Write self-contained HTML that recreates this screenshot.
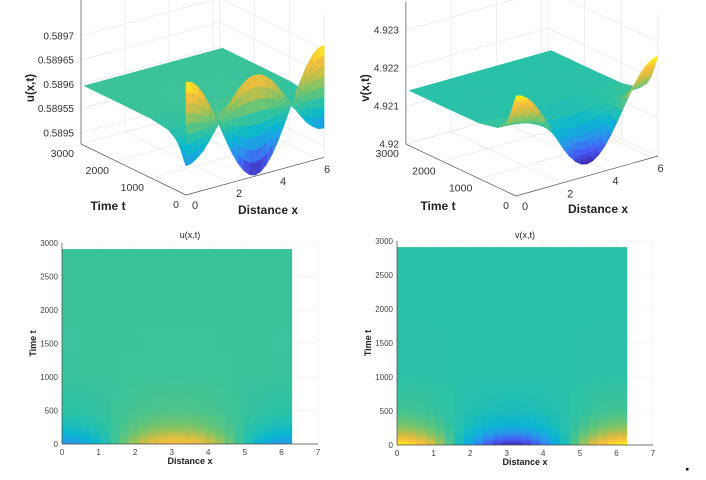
<!DOCTYPE html>
<html><head><meta charset="utf-8"><style>
html,body{margin:0;padding:0;background:#fff;}
svg{display:block;font-family:"Liberation Sans",sans-serif;}
</style></head>
<body>
<svg id="fig" width="706" height="480" viewBox="0 0 706 480" xmlns="http://www.w3.org/2000/svg">
<defs id="defs"></defs>
<rect x="686" y="468" width="2.5" height="2.5" fill="#000"/>
</svg>
<script>
// ---- data ----
const xs = [0,0.262,0.524,0.785,1.047,1.309,1.571,1.833,2.094,2.356,2.618,2.880,3.142,3.403,3.665,3.927,4.189,4.451,4.712,4.974,5.236,5.498,5.760,6.021,6.283];
const ts = [0,5,30,60,100,150,200,300,500,1000,2000,2910];
const uInitial = [0.589710,0.589706,0.589695,0.589676,0.589652,0.589624,0.589595,0.589565,0.589537,0.589513,0.589495,0.589483,0.589479,0.589483,0.589495,0.589513,0.589537,0.589565,0.589595,0.589624,0.589652,0.589676,0.589695,0.589706,0.589708];
const uEarly = [0.589537,0.589539,0.589547,0.589558,0.589574,0.589592,0.589611,0.589630,0.589648,0.589664,0.589675,0.589683,0.589685,0.589683,0.589675,0.589664,0.589648,0.589630,0.589611,0.589592,0.589574,0.589558,0.589547,0.589539,0.589537];
const uSteady = 0.5896;
const uDecay = [1,1,0.92,0.85,0.72,0.58,0.45,0.28,0.1,0.01,0,0];
const vInitial = [4.922632,4.922592,4.922476,4.922292,4.922053,4.921774,4.921474,4.921174,4.920895,4.920655,4.920471,4.920355,4.920316,4.920355,4.920471,4.920655,4.920895,4.921174,4.921474,4.921774,4.922053,4.922292,4.922476,4.922592,4.922632];
const vSteady = 4.92145;
const vDecay = [1,0.97,0.9,0.82,0.7,0.56,0.44,0.27,0.1,0.01,0,0];
const uZTicks = [0.5895,0.58955,0.5896,0.58965,0.5897];
const uZLabels = ['0.5895','0.58955','0.5896','0.58965','0.5897'];
const vZTicks = [4.92,4.921,4.922,4.923];
const vZLabels = ['4.92','4.921','4.922','4.923'];
const xTicks3 = [0,2,4,6];
const tTicks3 = [0,1000,2000,3000];
const xTicksH = [0,1,2,3,4,5,6,7];
const tTicksH = [0,500,1000,1500,2000,2500,3000];

// ---- helpers ----
const NS='http://www.w3.org/2000/svg';
const svg=document.getElementById('fig');
const defs=document.getElementById('defs');
function mk(tag,attrs,parent){const e=document.createElementNS(NS,tag);for(const k in attrs)e.setAttribute(k,attrs[k]);(parent||svg).appendChild(e);return e;}
const stops=[[0,[62,38,168]],[0.125,[70,92,245]],[0.25,[40,150,235]],[0.375,[8,182,210]],[0.5,[45,194,165]],[0.625,[115,197,110]],[0.75,[200,190,70]],[0.875,[253,190,60]],[1,[249,250,20]]];
function cmap(f){f=Math.max(0,Math.min(1,f));for(let i=1;i<stops.length;i++){if(f<=stops[i][0]){const a=stops[i-1],b=stops[i];const r=(f-a[0])/(b[0]-a[0]);const c=a[1].map((v,k)=>Math.round(v+(b[1][k]-v)*r));return 'rgb('+c.join(',')+')';}}return 'rgb(249,250,20)';}
function buildU(){return ts.map((t,j)=>j===0?uInitial.slice():uEarly.map(b=>uSteady+(b-uSteady)*uDecay[j]));}
function buildV(){return ts.map((t,j)=>vInitial.map(a=>vSteady+(a-vSteady)*vDecay[j]));}

function draw3D(cfg){
  const Z=cfg.Z, P=cfg.P, zf=cfg.zFloor, zt=cfg.zTop, xm=6.2832, tm=3000;
  const g=mk('g',{});
  
  
  const gl=(a,b,col,w,name)=>{const l=mk('line',{x1:a[0],y1:a[1],x2:b[0],y2:b[1],stroke:col,'stroke-width':w},g);
    
    };
  const gc='#e3e3e3';
  xTicks3.forEach(x=>{gl(P(x,tm,zf),P(x,tm,zt),gc,0.6,'grid-line');gl(P(x,0,zf),P(x,tm,zf),gc,0.6,'grid-line');});
  tTicks3.forEach(t=>{gl(P(xm,t,zf),P(xm,t,zt),gc,0.6,'grid-line');gl(P(0,t,zf),P(xm,t,zf),gc,0.6,'grid-line');});
  cfg.zTicks.forEach(z=>{gl(P(0,tm,z),P(xm,tm,z),gc,0.6,'grid-line');gl(P(xm,0,z),P(xm,tm,z),gc,0.6,'grid-line');});
  gl(P(0,0,zf),P(0,tm,zf),'#555',0.7,'t-axis-line');
  gl(P(0,0,zf),P(xm,0,zf),'#555',0.7,'x-axis-line');
  gl(P(0,tm,zf),P(0,tm,zt),'#555',0.7,'z-axis-line');
  let mn=Infinity,mx=-Infinity;Z.forEach(r=>r.forEach(v=>{mn=Math.min(mn,v);mx=Math.max(mx,v);}));
  const rows=[];
  const rowT=[];
  for(let j=0;j<ts.length;j++){
    if(j===1){for(let s=1;s<8;s++){const f=s/8;rows.push(Z[0].map((v,i)=>v+(Z[1][i]-v)*f));rowT.push(ts[0]+(ts[1]-ts[0])*f);}}
    rows.push(Z[j]);rowT.push(ts[j]);
  }
  const quads=[];
  for(let j=0;j<rows.length-1;j++)for(let i=0;i<xs.length-1;i++){
    const c=[[i,j],[i+1,j],[i+1,j+1],[i,j+1]];
    const pts=c.map(([a,b])=>P(xs[a],rowT[b],rows[b][a]));
    const zm=c.reduce((s,[a,b])=>s+rows[b][a],0)/4;
    const fl=P((xs[i]+xs[i+1])/2,(rowT[j]+rowT[j+1])/2,zf);
    quads.push({pts,zm,d:fl[1]});
  }
  quads.sort((a,b)=>a.d-b.d);
  quads.forEach(q=>{const col=cmap((q.zm-mn)/(mx-mn));
    const p=mk('polygon',{points:q.pts.map(p=>p[0].toFixed(2)+','+p[1].toFixed(2)).join(' '),fill:col,stroke:col,'stroke-width':0.5},g);
    
    });
  const tx=(x,y,s,anchor,name,extra)=>{const e=mk('text',Object.assign({x:x,y:y,'font-size':10,fill:'#333','text-anchor':anchor},extra||{}),g);e.textContent=s;
    
    };
  cfg.zTicks.forEach((z,k)=>{const p=P(0,tm,z);tx(p[0]-7,p[1]+3.5,cfg.zLabels[k],'end','z-tick-label');});
  xTicks3.forEach(x=>{const p=P(x,0,zf);tx(p[0]+9,p[1]+14,String(x),'middle','x-tick-label',{'font-size':11});});
  tTicks3.forEach(t=>{const p=P(0,t,zf);tx(p[0]-7,p[1]+13,String(t),'end','t-tick-label',{'font-size':10.5});});
  tx(cfg.zl[0],cfg.zl[1],cfg.zName,'middle','z-axis-title',{'font-weight':'bold','font-size':11.5,transform:'rotate(-90 '+cfg.zl[0]+' '+cfg.zl[1]+')',fill:'#222'});
  tx(cfg.tl[0],cfg.tl[1],'Time t','middle','t-axis-title',{'font-weight':'bold','font-size':12,fill:'#222'});
  tx(cfg.xl[0],cfg.xl[1],'Distance x','middle','x-axis-title',{'font-weight':'bold','font-size':12,fill:'#222'});
}

function drawHeat(cfg){
  const Z=cfg.Z;
  const X=x=>cfg.x0+x*cfg.sx, Y=t=>cfg.y0-t*cfg.sy;
  const g=mk('g',{});
  
  
  xTicksH.forEach(x=>{const l=mk('line',{x1:X(x),y1:Y(0),x2:X(x),y2:Y(3000),stroke:'#ececec','stroke-width':0.6},g);
    
    });
  tTicksH.forEach(t=>{const l=mk('line',{x1:X(0),y1:Y(t),x2:X(7),y2:Y(t),stroke:'#ececec','stroke-width':0.6},g);
    
    });
  let mn=Infinity,mx=-Infinity;Z.forEach(r=>r.forEach(v=>{mn=Math.min(mn,v);mx=Math.max(mx,v);}));
  const tMax=ts[ts.length-1];
  for(let i=0;i<xs.length-1;i++){
    const gid=cfg.name+'g'+i;
    const gr=mk('linearGradient',{id:gid,x1:0,y1:1,x2:0,y2:0},defs);
    ts.forEach((t,j)=>{mk('stop',{offset:(t/tMax).toFixed(5),'stop-color':cmap(((Z[j][i]+Z[j][i+1])/2-mn)/(mx-mn))},gr);});
    const r=mk('rect',{x:X(xs[i]).toFixed(2),y:Y(tMax).toFixed(2),width:(X(xs[i+1])-X(xs[i])+0.4).toFixed(2),height:(Y(0)-Y(tMax)).toFixed(2),fill:'url(#'+gid+')'},g);
    
    
  }
  const ax1=mk('line',{x1:X(0),y1:Y(0),x2:X(7),y2:Y(0),stroke:'#444','stroke-width':0.7},g);
  
  
  const ax2=mk('line',{x1:X(0),y1:Y(0),x2:X(0),y2:Y(3000),stroke:'#444','stroke-width':0.7},g);
  
  
  const tx=(x,y,s,anchor,name,extra)=>{const e=mk('text',Object.assign({x:x,y:y,'font-size':8,fill:'#444','text-anchor':anchor},extra||{}),g);e.textContent=s;
    
    };
  xTicksH.forEach(x=>tx(X(x),Y(0)+11,String(x),'middle','x-tick-label'));
  tTicksH.forEach(t=>tx(X(0)-4,Y(t)+3,String(t),'end','y-tick-label'));
  tx((X(0)+X(7))/2,cfg.y0+20,'Distance x','middle','x-axis-title',{'font-weight':'bold','font-size':9,fill:'#222'});
  const yx=cfg.x0-26, yy=(Y(0)+Y(3000))/2;
  tx(yx,yy,'Time t','middle','y-axis-title',{'font-weight':'bold','font-size':9,fill:'#222',transform:'rotate(-90 '+yx+' '+yy+')'});
  tx((X(0)+X(7))/2,238,cfg.title,'middle','plot-title',{'font-size':9,fill:'#222'});
}

const U=buildU(), V=buildV();
draw3D({name:'u',Z:U,zFloor:0.589477,zTop:0.589774,zTicks:uZTicks,zLabels:uZLabels,zName:'u(x,t)',
  P:(x,t,z)=>[186+22*x-0.035*t,195-6*x-0.017*t-(z-0.589477)/0.00005*24.25],zl:[34,88],tl:[108,210],xl:[268,214]});
draw3D({name:'v',Z:V,zFloor:4.92,zTop:4.92375,zTicks:vZTicks,zLabels:vZLabels,zName:'v(x,t)',
  P:(x,t,z)=>[516+22.6*x-0.0367*t,196-6.37*x-0.0173*t-(z-4.92)/0.001*38],zl:[369,88],tl:[438,210],xl:[598,213]});
drawHeat({name:'uh',Z:U,x0:62,sx:36.57,y0:444,sy:0.067,title:'u(x,t)'});
drawHeat({name:'vh',Z:V,x0:397,sx:36.57,y0:445,sy:0.068,title:'v(x,t)'});
</script>
</body></html>
